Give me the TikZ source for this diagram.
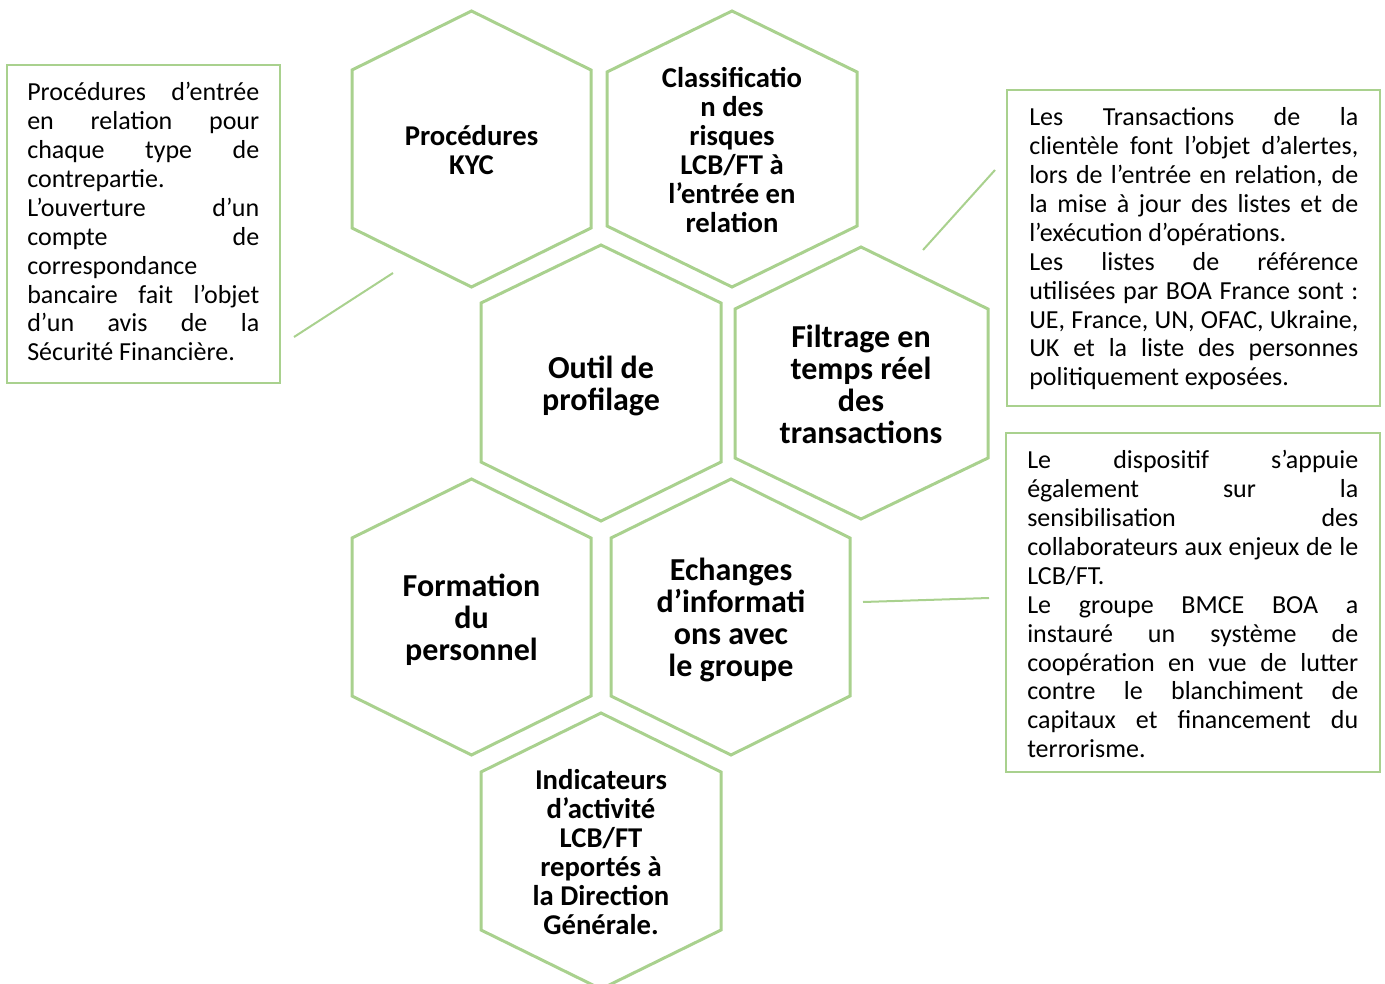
\documentclass[tikz,border=0pt]{standalone}
\usepackage{xcolor}
\usepackage{fontspec}
\setmainfont{Carlito}
\usepackage{tikz}

\definecolor{hexgreen}{RGB}{169,209,142}
\newcommand{\jline}[1]{\hbox to \linewidth{#1}}
\newcommand{\lline}[1]{\hbox to \linewidth{#1\hfil}}

\begin{document}
\begin{tikzpicture}[x=0.75pt,y=0.75pt,yscale=-1,xscale=1,
  hexedge/.style={color=hexgreen, line width=2.25, line join=miter},
  boxedge/.style={color=hexgreen, line width=1.5},
  linkline/.style={color=hexgreen, line width=1.5},
  hexlabel/.style={align=center, inner sep=0.75pt, font={\bfseries\fontsize{21.5}{21.75}\selectfont}},
  hexlabelbig/.style={hexlabel, font={\bfseries\fontsize{24}{24}\selectfont}},
  boxtext/.style={anchor=base west, inner sep=0pt, font={\fontsize{19.5}{21.7}\selectfont}}]
\useasboundingbox (0,0) rectangle (1385,984);
%Shape: Hexagon [id:dp4417025938112604] 
\draw  [hexedge]  (471.5,11) -- (591,70) -- (591,228) -- (471.5,287) -- (352,228) -- (352,70) -- cycle ;
%Shape: Hexagon [id:dp0826154971730218] 
\draw  [hexedge]  (732,11) -- (857,72) -- (857,226) -- (732,287) -- (607,226) -- (607,72) -- cycle ;
%Shape: Hexagon [id:dp7390251146286355] 
\draw  [hexedge]  (601,245) -- (721,303) -- (721,462) -- (601,521) -- (481,462) -- (481,303) -- cycle ;
%Shape: Hexagon [id:dp2659813073430771] 
\draw  [hexedge]  (861,247) -- (988,309) -- (988,458) -- (861,519) -- (735,458) -- (735,309) -- cycle ;
%Shape: Hexagon [id:dp9031128846650417] 
\draw  [hexedge]  (471.5,479) -- (591,538) -- (591,696) -- (471.5,755) -- (352,696) -- (352,538) -- cycle ;
%Shape: Hexagon [id:dp3368470215587942] 
\draw  [hexedge]  (731,479) -- (850,538) -- (850,696) -- (731,755) -- (611,696) -- (611,538) -- cycle ;
%Shape: Hexagon [id:dp5582317960129457] 
\draw  [hexedge]  (601,713) -- (721,772) -- (721,930) -- (601,989) -- (481,930) -- (481,772) -- cycle ;
%Shape: Rectangle [id:dp1873620045197318] 
\draw  [boxedge]  (6.5,65) -- (280,65) -- (280,383) -- (6.5,383) -- cycle ;
%Shape: Rectangle [id:dp6620914307751429] 
\draw  [boxedge]  (1007,90) -- (1380,90) -- (1380,406) -- (1007,406) -- cycle ;
%Shape: Rectangle [id:dp2934408817560376] 
\draw  [boxedge]  (1006,433) -- (1380,433) -- (1380,772) -- (1006,772) -- cycle ;
% Link ends
\coordinate (kycend) at (393,273) ;
\coordinate (leftend) at (294,337) ;
\coordinate (filtend) at (923,250) ;
\coordinate (rightend) at (995,170) ;
\coordinate (echend) at (863,602) ;
\coordinate (lowend) at (989,598) ;
%Straight Lines [id:da3051876249127736] 
\draw [linkline]   (kycend) -- (leftend) ;
%Straight Lines [id:da8124407793651028] 
\draw [linkline]   (filtend) -- (rightend) ;
%Straight Lines [id:da1490283375906642] 
\draw [linkline]   (echend) -- (lowend) ;
% Text Node
\node (kyc) [hexlabel] at (471.5,150) {Procédures\\KYC};
% Text Node
\node (classif) [hexlabel] at (732,150) {Classificatio\\n des\\risques\\LCB/FT à\\l’entrée en\\relation};
% Text Node
\node (profil) [hexlabelbig] at (601,386) {Outil de\\profilage};
% Text Node
\node (filtrage) [hexlabelbig] at (861,384) {Filtrage en\\temps réel\\des\\transactions};
% Text Node
\node (formation) [hexlabelbig] at (471.5,620) {Formation\\du\\personnel};
% Text Node
\node (echanges) [hexlabelbig] at (731,620) {Echanges\\d’informati\\ons avec\\le groupe};
% Text Node
\node (indic) [hexlabel] at (601,852) {Indicateurs\\d’activité\\LCB/FT\\reportés à\\la Direction\\Générale.};
% Text Node
\node (kyctext) [boxtext] at (27,100.5) {\parbox[t]{174pt}{\fontsize{19.5}{21.7}\selectfont
\jline{Procédures d’entrée}
\jline{en relation pour}
\jline{chaque type de}
\lline{contrepartie.}
\jline{L’ouverture d’un}
\jline{compte de}
\lline{correspondance}
\jline{bancaire fait l’objet}
\jline{d’un avis de la}
\lline{Sécurité Financière.}}};
% Text Node
\node (filttext) [boxtext] at (1029,125.5) {\parbox[t]{246.75pt}{\fontsize{19.5}{21.7}\selectfont
\jline{Les Transactions de la}
\jline{clientèle font l’objet d’alertes,}
\jline{lors de l’entrée en relation, de}
\jline{la mise à jour des listes et de}
\lline{l’exécution d’opérations.}
\jline{Les listes de référence}
\jline{utilisées par BOA France sont :}
\jline{UE, France, UN, OFAC, Ukraine,}
\jline{UK et la liste des personnes}
\lline{politiquement exposées.}}};
% Text Node
\node (echtext) [boxtext] at (1027,468.5) {\parbox[t]{248.25pt}{\fontsize{19.5}{21.7}\selectfont
\jline{Le dispositif s’appuie}
\jline{également sur la}
\jline{sensibilisation des}
\jline{collaborateurs aux enjeux de le}
\lline{LCB/FT.}
\jline{Le groupe BMCE BOA a}
\jline{instauré un système de}
\jline{coopération en vue de lutter}
\jline{contre le blanchiment de}
\jline{capitaux et financement du}
\lline{terrorisme.}}};
\end{tikzpicture}
\end{document}
